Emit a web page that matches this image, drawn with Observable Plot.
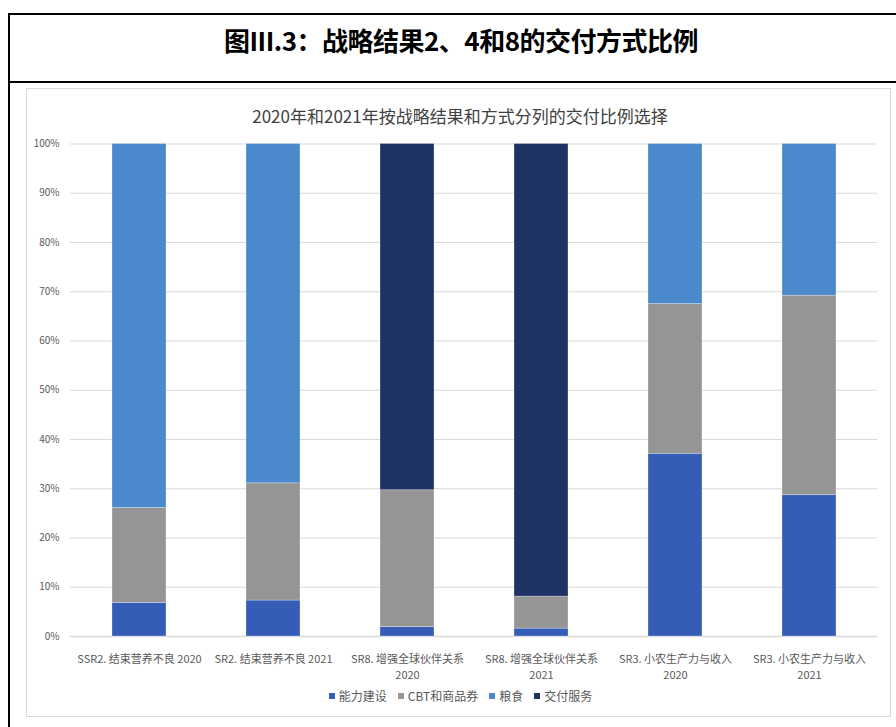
<!DOCTYPE html>
<html>
<head>
<meta charset="utf-8">
<script src="https://cdn.jsdelivr.net/npm/d3@7"></script>
<script src="https://cdn.jsdelivr.net/npm/@observablehq/plot@0.6"></script>
<style>
  html, body { margin: 0; padding: 0; background: #fff; }
  #wrap { position: relative; width: 896px; height: 727px; overflow: hidden; font-family: "Noto Sans CJK SC", "Noto Sans", sans-serif; }
  #outer { position: absolute; left: 8px; top: 13px; width: 900px; height: 720px; border-left: 2px solid #000; border-top: 2.5px solid #000; }
  #divider { position: absolute; left: 8px; top: 81px; width: 890px; height: 2px; background: #000; }
  #mainTitle { position: absolute; left: 0; width: 922px; top: 22px; text-align: center; font-size: 26px; font-weight: 700; color: #000; line-height: 36px; letter-spacing: -0.5px; }
  #inner { position: absolute; left: 26px; top: 88px; width: 865px; height: 629px; box-sizing: border-box; border: 1.5px solid #d9d9d9; }
  #chartTitle { position: absolute; left: 0; width: 920px; top: 104px; text-align: center; font-size: 17px; color: #404040; line-height: 24px; }
  #plot { position: absolute; left: 0; top: 0; }
  #legend { position: absolute; left: 0; width: 921px; top: 687px; display: flex; justify-content: center; gap: 11px; font-size: 12px; color: #595959; line-height: 18px; }
  #legend .item { display: flex; align-items: center; }
  #legend .sw { width: 6px; height: 6px; margin-right: 4px; }
</style>
</head>
<body>
<div id="wrap">
  <div id="outer"></div>
  <div id="divider"></div>
  <div id="mainTitle">图III.3：战略结果2、4和8的交付方式比例</div>
  <div id="inner"></div>
  <div id="chartTitle">2020年和2021年按战略结果和方式分列的交付比例选择</div>
  <div id="plot"></div>
  <div id="legend"></div>
</div>
<script>
const categories = [
  "SSR2. 结束营养不良 2020",
  "SR2. 结束营养不良 2021",
  "SR8. 增强全球伙伴关系\n2020",
  "SR8. 增强全球伙伴关系\n2021",
  "SR3. 小农生产力与收入\n2020",
  "SR3. 小农生产力与收入\n2021"
];
const seriesNames = ["能力建设", "CBT和商品券", "粮食", "交付服务"];
const seriesColors = ["#355db8", "#959595", "#4a89cc", "#1e3364"];
const capacityBuilding = [6.8, 7.3, 1.9, 1.6, 37.1, 28.7];
const cbtAndVouchers   = [19.3, 23.8, 27.8, 6.5, 30.4, 40.5];
const food             = [73.9, 68.9, 0, 0, 32.5, 30.8];
const serviceDelivery  = [0, 0, 70.3, 91.9, 0, 0];
const yTicks = [0, 10, 20, 30, 40, 50, 60, 70, 80, 90, 100];

const seriesValues = [capacityBuilding, cbtAndVouchers, food, serviceDelivery];
const data = [];
seriesNames.forEach((s, si) => {
  categories.forEach((c, ci) => {
    data.push({ category: c, series: s, value: seriesValues[si][ci] });
  });
});

const chart = Plot.plot({
  width: 896,
  height: 727,
  marginLeft: 70,
  marginRight: 19,
  marginTop: 143.5,
  marginBottom: 91,
  style: { fontFamily: "'Noto Sans CJK SC', 'Noto Sans', sans-serif", fontSize: "10px", color: "#595959", background: "transparent" },
  x: { domain: categories, paddingInner: 0.6, paddingOuter: 0.3, label: null },
  y: { domain: [0, 100], label: null },
  color: { domain: seriesNames, range: seriesColors, legend: false },
  marks: [
    Plot.gridY(yTicks, { stroke: "#d9d9d9", strokeOpacity: 1, strokeWidth: 1 }),
    Plot.ruleY([0], { stroke: "#d9d9d9", strokeWidth: 1.5 }),
    Plot.barY(data, Plot.stackY({
      order: seriesNames,
      x: "category",
      y: "value",
      fill: "series",
      stroke: "#ffffff",
      strokeOpacity: 0.35,
      strokeWidth: 0.8
    })),
    Plot.axisY(yTicks, { tickSize: 0, tickPadding: 11, tickFormat: d => d + "%", fontSize: 10, label: null }),
    Plot.axisX({ tickSize: 0, tickPadding: 15, fontSize: 11, lineHeight: 1.45, label: null })
  ]
});
document.getElementById("plot").appendChild(chart);

const legend = document.getElementById("legend");
seriesNames.forEach((s, i) => {
  const item = document.createElement("div");
  item.className = "item";
  const sw = document.createElement("div");
  sw.className = "sw";
  sw.style.background = seriesColors[i];
  const t = document.createElement("span");
  t.textContent = s;
  item.appendChild(sw);
  item.appendChild(t);
  legend.appendChild(item);
});
</script>
</body>
</html>
